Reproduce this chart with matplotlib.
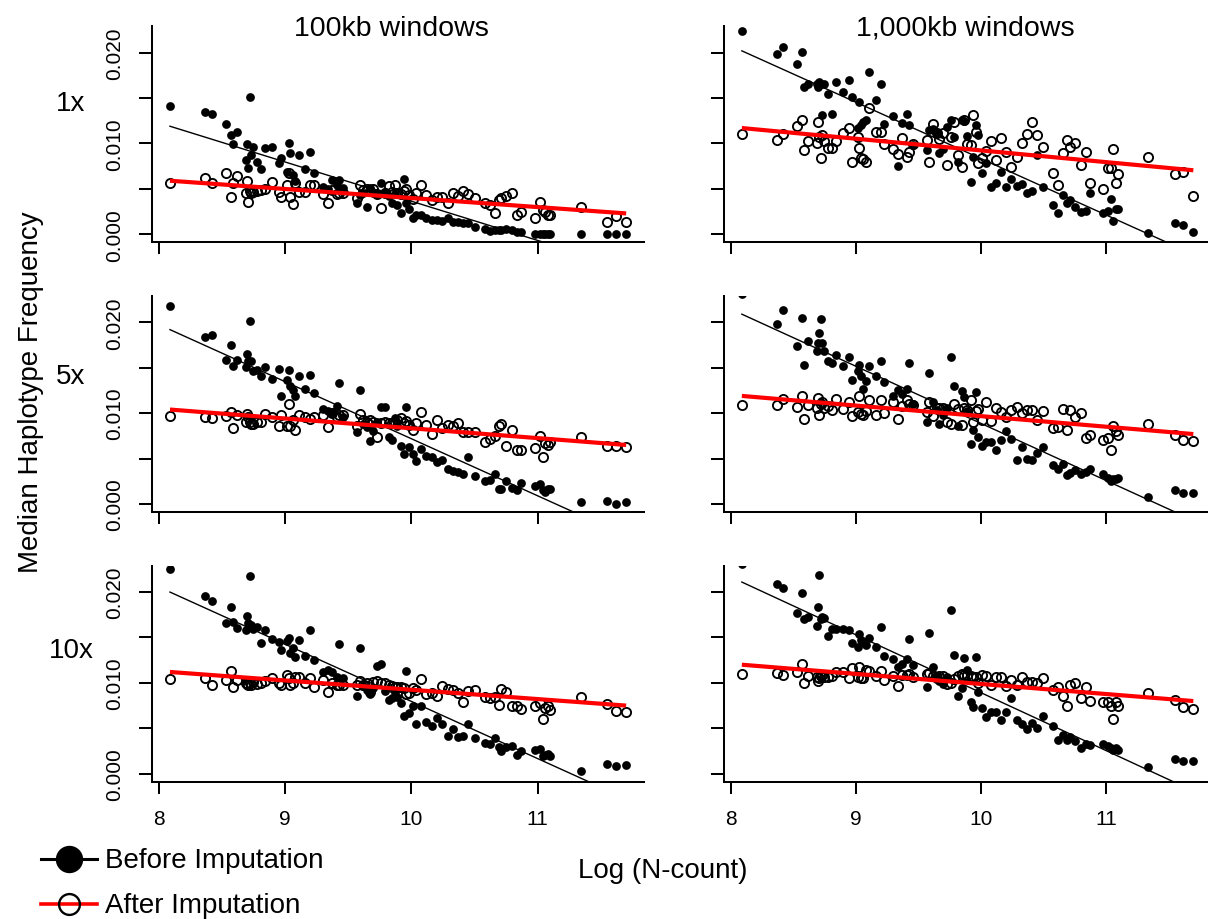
import numpy as np
import matplotlib
matplotlib.use("Agg")
import matplotlib.pyplot as plt
from matplotlib.lines import Line2D

plt.rcParams['font.family'] = ['Liberation Sans', 'DejaVu Sans']

# ---------------- data ----------------
log_ncount = [8.09, 8.37, 8.42, 8.53, 8.57, 8.59, 8.62, 8.69, 8.70, 8.71,
              8.72, 8.73, 8.75, 8.78, 8.81, 8.84, 8.90, 8.95, 8.97, 9.02,
              9.03, 9.04, 9.06, 9.08, 9.11, 9.16, 9.20, 9.23, 9.30, 9.34,
              9.37, 9.41, 9.43, 9.46, 9.57, 9.59, 9.62, 9.65, 9.67, 9.70,
              9.73, 9.76, 9.79, 9.82, 9.85, 9.87, 9.89, 9.92, 9.94, 9.96,
              9.98, 10.01, 10.04, 10.08, 10.12, 10.16, 10.20, 10.24, 10.29, 10.33,
              10.37, 10.41, 10.45, 10.50, 10.58, 10.62, 10.66, 10.69, 10.71, 10.75,
              10.80, 10.84, 10.87, 10.98, 11.02, 11.04, 11.06, 11.08, 11.10, 11.34,
              11.55, 11.62, 11.70]

# median haplotype frequency, in units of 1e-3
before_1x_100kb = [14.1, 13.5, 13.3, 12.1, 10.9, 9.9, 11.3, 8.2, 9.9, 7.3,
                   15.1, 8.7, 9.6, 8.0, 7.2, 9.5, 9.6, 7.8, 8.4, 6.9,
                   10.1, 8.9, 6.5, 5.9, 8.7, 7.2, 9.1, 6.8, 5.2, 5.0,
                   6.0, 5.4, 6.0, 5.1, 3.4, 4.3, 4.5, 3.0, 5.1, 4.6,
                   4.4, 5.6, 4.7, 4.2, 3.4, 4.4, 3.2, 2.3, 6.1, 3.4,
                   2.8, 1.8, 2.1, 2.1, 1.8, 1.6, 1.6, 1.5, 1.8, 1.4,
                   1.4, 1.3, 1.3, 0.8, 0.6, 0.4, 0.5, 0.5, 0.5, 0.6,
                   0.5, 0.3, 0.2, 0.0, 0.0, 0.0, 0.0, 0.0, 0.0, 0.0,
                   0.0, 0.0, 0.0]
after_1x_100kb = [5.7, 6.2, 5.6, 6.8, 4.1, 5.6, 6.4, 4.5, 5.9, 3.6,
                  4.8, 4.6, 4.7, 4.8, 4.9, 5.0, 5.8, 4.7, 4.1, 5.4,
                  6.7, 4.1, 3.3, 5.7, 4.7, 4.7, 5.4, 5.4, 4.4, 3.4,
                  4.9, 4.4, 4.6, 4.5, 4.0, 5.4, 4.9, 5.0, 4.8, 5.0,
                  4.4, 2.9, 4.6, 5.3, 4.7, 5.4, 4.6, 4.4, 4.8, 5.0,
                  4.3, 3.9, 4.6, 5.4, 4.3, 3.8, 4.1, 4.1, 3.4, 4.5,
                  4.2, 4.8, 4.4, 4.0, 3.4, 3.2, 2.4, 3.8, 4.0, 4.2,
                  4.5, 2.1, 2.5, 1.8, 3.6, 2.7, 2.5, 2.1, 2.1, 3.0,
                  1.4, 2.0, 1.4]
before_1x_1000kb = [22.4, 19.8, 20.6, 18.7, 20.1, 16.2, 16.6, 16.5, 16.2, 16.8,
                    16.6, 13.1, 16.5, 15.5, 13.2, 16.8, 15.7, 17.0, 15.1, 11.7,
                    14.6, 12.0, 12.4, 12.6, 17.9, 14.8, 16.5, 12.2, 13.0, 7.5,
                    12.3, 13.3, 12.0, 9.8, 9.3, 11.5, 11.6, 11.2, 9.0, 9.4,
                    11.8, 12.6, 10.7, 8.0, 12.6, 12.5, 10.8, 5.8, 8.5, 12.0,
                    10.9, 6.8, 7.8, 5.2, 5.6, 6.9, 5.2, 6.1, 5.3, 5.5,
                    4.5, 4.8, 8.7, 5.2, 3.2, 2.3, 4.3, 3.4, 3.8, 3.0,
                    2.5, 2.6, 4.5, 2.4, 2.6, 3.9, 1.5, 2.8, 2.8, 0.15,
                    1.3, 1.0, 0.3]
after_1x_1000kb = [11.0, 10.4, 11.0, 11.9, 12.6, 9.3, 10.3, 10.0, 12.4, 10.7,
                   8.4, 10.9, 10.3, 9.5, 9.5, 10.3, 11.2, 11.7, 8.0, 10.7,
                   9.5, 8.4, 8.3, 8.0, 13.9, 11.3, 11.3, 9.9, 9.4, 8.8,
                   10.6, 8.5, 9.1, 9.9, 10.4, 8.0, 12.1, 11.1, 10.5, 11.1,
                   7.6, 10.7, 12.4, 8.7, 7.4, 12.6, 9.9, 9.8, 13.1, 11.3,
                   7.8, 8.4, 9.2, 10.3, 8.2, 10.6, 9.1, 7.4, 8.5, 10.0,
                   11.0, 12.4, 10.9, 9.6, 6.8, 5.4, 8.9, 10.4, 9.6, 10.0,
                   7.6, 9.1, 5.7, 5.0, 7.3, 7.3, 9.4, 5.6, 6.6, 8.5,
                   6.6, 6.9, 4.2]
before_5x_100kb = [21.8, 18.4, 18.6, 15.9, 17.5, 15.2, 15.9, 15.1, 16.5, 15.8,
                   20.2, 15.7, 14.6, 14.8, 14.1, 15.1, 13.8, 14.9, 11.9, 13.7,
                   14.7, 13.0, 12.5, 11.9, 14.1, 12.7, 14.2, 12.2, 10.5, 10.2,
                   10.0, 10.8, 13.3, 9.6, 7.9, 12.6, 8.8, 8.5, 6.9, 8.0,
                   9.0, 10.7, 10.7, 7.4, 7.0, 9.5, 8.6, 6.4, 5.5, 10.7,
                   6.3, 5.5, 4.7, 6.1, 5.3, 5.2, 4.6, 4.9, 3.9, 3.6,
                   3.5, 3.3, 5.2, 3.1, 2.5, 2.6, 3.3, 1.7, 1.6, 2.5,
                   1.8, 1.5, 2.3, 2.0, 2.2, 1.5, 1.3, 1.7, 1.7, 0.2,
                   0.3, 0.0, 0.2]
after_5x_100kb = [9.7, 9.6, 9.5, 9.7, 10.1, 8.4, 9.8, 9.0, 9.9, 9.6,
                  9.0, 8.8, 8.8, 9.0, 9.0, 9.9, 9.6, 8.6, 9.8, 8.6,
                  11.0, 8.6, 9.3, 8.1, 9.8, 9.6, 9.4, 9.6, 9.8, 8.5,
                  10.0, 9.6, 9.8, 9.8, 8.6, 9.9, 9.3, 9.0, 9.2, 9.0,
                  7.4, 8.9, 9.0, 8.9, 8.9, 9.0, 9.2, 9.5, 8.9, 9.1,
                  8.7, 8.2, 8.9, 10.1, 8.7, 7.7, 9.2, 8.4, 8.7, 8.6,
                  8.9, 7.9, 7.9, 7.9, 6.8, 7.2, 7.5, 8.6, 8.8, 6.4,
                  8.1, 6.0, 5.9, 6.2, 7.5, 5.2, 6.7, 6.5, 6.8, 7.4,
                  6.4, 6.4, 6.3]
before_5x_1000kb = [23.1, 19.8, 21.4, 17.4, 20.5, 15.3, 18.0, 16.9, 17.7, 18.8,
                    20.4, 17.7, 16.8, 15.8, 15.5, 16.4, 15.2, 16.2, 13.7, 14.6,
                    15.3, 14.1, 12.7, 13.5, 15.2, 14.1, 15.7, 13.4, 11.9, 12.5,
                    12.1, 12.7, 15.5, 11.0, 9.0, 14.4, 11.2, 10.4, 8.8, 9.8,
                    10.6, 16.2, 13.0, 8.6, 12.4, 11.8, 10.2, 6.6, 8.1, 12.3,
                    7.4, 6.4, 6.8, 6.8, 5.9, 7.0, 8.0, 7.2, 4.9, 6.3,
                    5.0, 4.8, 5.6, 6.3, 4.3, 3.9, 4.4, 3.2, 3.4, 3.7,
                    3.3, 3.5, 3.9, 3.3, 2.9, 2.5, 2.8, 2.8, 2.9, 0.8,
                    1.5, 1.2, 1.2]
after_5x_1000kb = [10.9, 10.9, 11.6, 10.7, 11.9, 9.4, 10.9, 10.6, 11.7, 9.8,
                   11.0, 11.2, 10.6, 10.8, 10.3, 11.6, 10.5, 11.2, 9.7, 10.1,
                   11.9, 9.9, 9.8, 10.2, 11.5, 9.8, 11.4, 10.0, 11.2, 9.4,
                   10.8, 11.4, 11.0, 10.9, 10.1, 11.2, 9.7, 10.6, 10.6, 10.6,
                   9.0, 8.8, 11.0, 10.5, 8.7, 10.6, 10.4, 11.4, 9.0, 10.2,
                   10.5, 9.2, 11.2, 9.1, 10.6, 10.1, 9.6, 10.3, 10.7, 10.0,
                   10.4, 10.3, 9.3, 10.2, 8.4, 8.5, 10.5, 8.1, 10.3, 9.6,
                   10.0, 7.3, 7.6, 7.0, 7.3, 6.0, 8.6, 8.0, 7.6, 8.8,
                   7.6, 7.1, 6.9]
before_10x_100kb = [22.5, 19.6, 19.0, 16.6, 18.4, 16.7, 16.0, 15.8, 17.4, 16.6,
                    21.8, 16.4, 15.9, 16.2, 14.4, 15.8, 14.8, 14.5, 13.6, 14.6,
                    14.9, 13.3, 13.8, 12.8, 14.7, 13.0, 15.8, 12.5, 11.2, 11.4,
                    11.2, 10.7, 14.3, 10.5, 8.6, 13.8, 9.7, 9.2, 8.8, 9.4,
                    11.9, 12.1, 9.1, 8.1, 8.3, 9.0, 8.5, 7.8, 6.3, 11.3,
                    6.7, 7.5, 5.5, 7.4, 5.7, 5.3, 6.1, 5.5, 4.2, 4.9,
                    4.0, 4.2, 5.5, 3.9, 3.4, 3.3, 3.9, 2.9, 2.5, 2.9,
                    3.0, 2.1, 2.5, 2.6, 2.7, 1.9, 2.1, 2.2, 2.0, 0.3,
                    1.1, 0.8, 1.0]
after_10x_100kb = [10.4, 10.5, 9.8, 10.3, 11.3, 9.5, 10.3, 10.0, 9.9, 9.8,
                   10.0, 9.8, 10.1, 9.9, 10.0, 10.2, 10.5, 10.0, 9.8, 10.9,
                   10.5, 9.8, 10.0, 10.6, 10.6, 10.0, 10.5, 9.6, 10.3, 9.0,
                   10.0, 9.8, 9.8, 9.8, 9.8, 10.2, 9.8, 10.0, 9.0, 10.1,
                   10.2, 10.0, 10.0, 9.8, 9.7, 9.6, 9.5, 9.5, 9.4, 8.8,
                   8.9, 9.4, 9.2, 10.4, 8.8, 8.9, 8.6, 9.7, 9.3, 9.2,
                   8.9, 7.9, 9.1, 9.2, 8.5, 8.3, 8.5, 7.6, 9.3, 9.0,
                   7.4, 7.4, 7.1, 7.5, 7.8, 6.0, 7.2, 7.4, 7.0, 8.5,
                   7.7, 6.9, 6.8]
before_10x_1000kb = [23.1, 20.9, 20.4, 17.7, 19.9, 17.0, 17.3, 16.3, 18.4, 21.9,
                     17.0, 17.3, 17.1, 15.2, 15.9, 15.9, 15.9, 15.8, 14.4, 13.9,
                     15.4, 14.7, 14.5, 14.2, 14.9, 14.0, 16.2, 13.0, 12.6, 11.8,
                     12.1, 12.6, 14.8, 12.0, 9.6, 15.5, 11.7, 10.8, 10.2, 9.9,
                     10.6, 18.0, 13.1, 8.6, 9.4, 12.7, 11.4, 7.9, 7.3, 12.9,
                     9.0, 7.2, 6.2, 6.8, 6.8, 5.9, 6.8, 8.3, 5.9, 5.5,
                     4.9, 5.6, 5.0, 6.4, 5.2, 3.7, 4.3, 3.7, 4.0, 3.6,
                     2.8, 3.3, 3.2, 3.3, 3.0, 2.8, 2.6, 2.8, 2.6, 0.7,
                     1.6, 1.4, 1.4]
after_10x_1000kb = [11.0, 11.1, 10.9, 11.2, 12.1, 10.0, 10.8, 10.6, 10.2, 10.5,
                    10.8, 10.9, 10.6, 10.6, 10.8, 11.2, 11.2, 10.5, 11.6, 10.6,
                    11.7, 10.5, 10.5, 11.4, 11.3, 10.8, 11.3, 10.3, 10.8, 9.7,
                    10.9, 10.9, 11.0, 10.6, 11.0, 11.1, 10.8, 10.5, 10.8, 10.8,
                    9.9, 10.0, 10.4, 10.8, 11.0, 10.9, 10.9, 10.8, 10.6, 10.6,
                    10.0, 10.9, 10.8, 9.8, 10.7, 10.6, 9.7, 10.3, 9.8, 10.7,
                    10.1, 10.1, 10.0, 10.5, 9.2, 9.5, 8.6, 7.5, 9.8, 10.0,
                    8.3, 9.6, 8.0, 7.9, 7.9, 7.5, 6.0, 7.9, 7.4, 8.9,
                    8.1, 7.3, 7.1]

# fitted regression lines (value at min and max Log N-count), units of 1e-3
# order: 1x/100kb, 1x/1000kb, 5x/100kb, 5x/1000kb, 10x/100kb, 10x/1000kb
before_fit_start = [11.9, 20.2, 19.2, 20.9, 20.0, 21.1]
before_fit_end = [-3.7, -2.2, -3.5, -1.8, -2.75, -1.9]
after_fit_start = [5.9, 11.7, 10.4, 11.9, 11.2, 12.0]
after_fit_end = [2.3, 7.05, 6.5, 7.7, 7.5, 8.0]

coverages = ["1x", "5x", "10x"]
windows = ["100kb windows", "1,000kb windows"]
x_ticks = [8, 9, 10, 11]
y_ticks = [0.000, 0.005, 0.010, 0.015, 0.020]
y_tick_labels = ["0.000", "", "0.010", "", "0.020"]
y_data_range = [0.0, 0.022]

before_sets = [before_1x_100kb, before_1x_1000kb, before_5x_100kb,
               before_5x_1000kb, before_10x_100kb, before_10x_1000kb]
after_sets = [after_1x_100kb, after_1x_1000kb, after_5x_100kb,
              after_5x_1000kb, after_10x_100kb, after_10x_1000kb]

# ---------------- layout ----------------
W, H = 1208, 920
fig = plt.figure(figsize=(W / 100, H / 100), dpi=100)
fx = lambda px: px / W
fy = lambda py: 1 - py / H

col_left = [151.7, 723.8]
col_width = [492.7, 487.6]
row_bottom = [243.3, 513.0, 782.7]
row_height = 215.8

x = np.array(log_ncount)
xpad = 0.04 * (x.max() - x.min())
ypad = 0.04 * (y_data_range[1] - y_data_range[0])

for r in range(3):
    for c in range(2):
        k = 2 * r + c
        ax = fig.add_axes([fx(col_left[c]), fy(row_bottom[r]),
                           col_width[c] / W, row_height / H])
        yb = np.array(before_sets[k]) / 1000.0
        ya = np.array(after_sets[k]) / 1000.0
        assert len(yb) == len(x) and len(ya) == len(x)
        ax.plot(x, yb, 'o', ls='none', color='black', ms=6.3, mew=0, zorder=2)
        ax.plot(x, ya, 'o', ls='none', mfc='none', mec='black', ms=6.6,
                mew=1.35, zorder=3)
        xl = [x.min(), x.max()]
        ax.plot(xl, np.array([before_fit_start[k], before_fit_end[k]]) / 1000.0,
                color='black', lw=1.0, zorder=4)
        ax.plot(xl, np.array([after_fit_start[k], after_fit_end[k]]) / 1000.0,
                color='#ff0000', lw=3.0, zorder=5, solid_capstyle='butt')

        ax.set_xlim(x.min() - xpad, x.max() + xpad)
        ax.set_ylim(y_data_range[0] - ypad, y_data_range[1] + ypad)
        for s in ['top', 'right']:
            ax.spines[s].set_visible(False)
        for s in ['left', 'bottom']:
            ax.spines[s].set_linewidth(1.45)
        ax.set_xticks(x_ticks)
        ax.set_yticks(y_ticks)
        if c == 0:
            ax.set_yticklabels(y_tick_labels, rotation=90, va='center')
        else:
            ax.set_yticklabels([])
        if r == 2:
            ax.set_xticklabels([str(t) for t in x_ticks])
        else:
            ax.set_xticklabels([])
        ax.tick_params(axis='y', direction='out', length=9.6, width=1.45,
                       labelsize=15, pad=10.5)
        ax.tick_params(axis='x', direction='out', length=8.6, width=1.45,
                       labelsize=15, pad=11)

# column titles
fig.text(fx(391.5), fy(35.7), windows[0], ha='center', va='baseline', fontsize=20.5)
fig.text(fx(965), fy(35.7), windows[1], ha='center', va='baseline', fontsize=20.5)

# row labels
for lab, yb_px in zip(coverages, [110.7, 384.3, 658.0]):
    fig.text(fx(71), fy(yb_px), lab, ha='center', va='baseline', fontsize=20)

# axis labels
fig.text(fx(31), fy(392), "Median Haplotype Frequency", rotation=90,
         ha='center', va='center', fontsize=20)
fig.text(fx(662.5), fy(878.3), "Log (N-count)", ha='center', va='baseline',
         fontsize=20)

# legend (drawn by hand, R style)
legend_rows = [("Before Imputation", 'black', 'black', 860, 868, 2.2, 18),
               ("After Imputation", '#ff0000', 'none', 905, 913, 2.6, 15)]
for label, lc, face, ymid, ybase, lw, ms in legend_rows:
    fig.add_artist(Line2D([fx(41), fx(97)], [fy(ymid), fy(ymid)],
                          transform=fig.transFigure, color=lc, lw=lw))
    fig.add_artist(Line2D([fx(69)], [fy(ymid)], transform=fig.transFigure,
                          marker='o', ms=ms, mfc=face, mec='black', mew=1.7,
                          ls='none'))
    fig.text(fx(104.6), fy(ybase), label, ha='left', va='baseline', fontsize=20)

fig.savefig("out.png", dpi=100)
